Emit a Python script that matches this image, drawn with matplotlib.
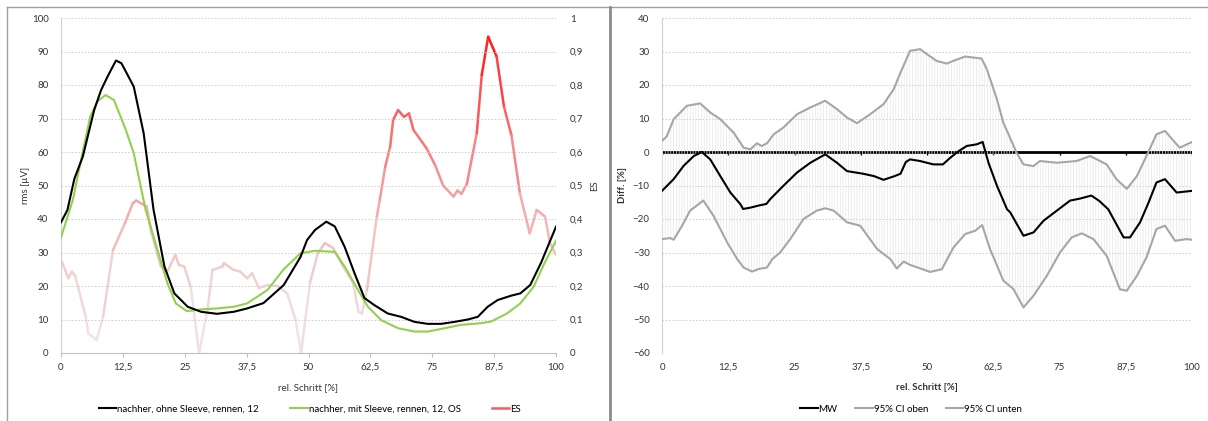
import matplotlib
matplotlib.use("Agg")
import matplotlib.pyplot as plt
import numpy as np
from matplotlib.collections import LineCollection
from matplotlib.lines import Line2D

plt.rcParams['font.family'] = ['Lato', 'DejaVu Sans']
plt.rcParams['font.size'] = 7
plt.rcParams['hatch.linewidth'] = 0.5

# left chart: rms curves (x in % of step)
x_ohne = [0, 1.3, 2.7, 4.4, 6.7, 8.1, 9.4, 11.1, 12.2, 13.1, 14.7, 16.7, 18.7, 20.9, 22.9, 25.6,
          28.3, 31.5, 34.9, 37.6, 40.9, 45, 48.4, 49.7, 51.3, 53.6, 55.3, 57.3, 59.3, 61.3, 63.3,
          66, 68.7, 71.4, 74.1, 76.8, 79.5, 82.2, 84.2, 86.2, 88.2, 90.9, 92.8, 94.8, 97, 100]
y_ohne = [39, 42.7, 52, 58.6, 72.5, 78.5, 82.5, 87.3, 86.5, 84, 79.5, 65.6, 42.7, 25.8, 17.8, 13.8,
          12.3, 11.7, 12.3, 13.3, 14.9, 20.3, 28.7, 33.7, 36.7, 39.2, 37.8, 31.7, 23.8, 16.4, 14.3,
          11.8, 10.8, 9.3, 8.7, 8.7, 9.3, 10, 10.8, 13.8, 15.8, 17.1, 17.8, 20.3, 27, 37.7]

x_mit = [0, 2.4, 3.9, 5.9, 7.3, 9, 10.7, 13.1, 14.7, 17.1, 19.5, 21.5, 23.2, 25.4, 28.2, 31.5,
         34.9, 37.6, 41.7, 45, 48.4, 51.3, 55.3, 57.3, 60, 62, 64.7, 68.1, 71.4, 74.1, 77.5, 80.8,
         84.9, 86.9, 90.1, 92.8, 95.5, 97.5, 100]
y_mit = [34.5, 45.7, 56.6, 70.5, 75, 77, 75.5, 66.6, 59.6, 42.7, 30.7, 20.8, 14.8, 12.5, 13, 13.3,
         13.8, 14.8, 18.8, 25, 29.8, 30.5, 30.2, 25.8, 18.8, 13.8, 9.8, 7.4, 6.4, 6.4, 7.4, 8.4,
         8.9, 9.4, 11.8, 14.8, 19.8, 26.3, 33.5]

x_es = [0, 1.5, 2.2, 2.9, 5, 5.5, 7.2, 8.5, 10.5, 12.9, 14.5, 15.2, 17.3, 18.3, 20.2, 21.5, 23.1,
        23.8, 24.9, 26.2, 27.9, 29.6, 30.6, 32.6, 32.9, 34.9, 36.2, 37.6, 38.6, 40, 41.7, 43.7,
        45.7, 47.4, 48.5, 50.3, 51.9, 53.3, 55, 57, 59, 60.1, 60.8, 61.8, 63.8, 64.4, 65.5, 66.5,
        67.1, 68.1, 69.3, 70.3, 71.2, 73.9, 75.6, 77.2, 79.3, 80.1, 80.9, 82, 84, 85, 86.3, 88,
        89.5, 91, 92.7, 94.7, 96.1, 97.8, 98.8, 100]
y_es = [0.278, 0.223, 0.243, 0.228, 0.108, 0.059, 0.039, 0.108, 0.307, 0.387, 0.447, 0.455, 0.437,
        0.358, 0.258, 0.243, 0.293, 0.263, 0.258, 0.198, 0.0, 0.128, 0.248, 0.258, 0.268, 0.248,
        0.243, 0.223, 0.238, 0.193, 0.203, 0.2, 0.178, 0.098, 0.0, 0.21, 0.298, 0.328, 0.313,
        0.258, 0.21, 0.123, 0.118, 0.188, 0.407, 0.457, 0.556, 0.616, 0.696, 0.725, 0.705, 0.715,
        0.666, 0.61, 0.56, 0.5, 0.467, 0.485, 0.475, 0.505, 0.657, 0.83, 0.944, 0.885, 0.735,
        0.65, 0.477, 0.357, 0.427, 0.407, 0.327, 0.293]

# right chart: difference with 95% CI
x_oben = [0, 0.9, 2.2, 4.7, 7.2, 9.1, 11, 13.5, 15.4, 16.7, 17.9, 18.8, 19.8, 21.1, 22.9, 25.5, 28,
          30.8, 33, 34.9, 36.8, 39.3, 41.8, 43.7, 45, 46.8, 48.7, 50, 51.8, 53.7, 55.3, 57.2, 60.3,
          61.3, 63.2, 64.4, 66.9, 68.2, 70.1, 71.3, 74.5, 78.2, 80.8, 83.9, 85.8, 87.7, 89.6, 91.4,
          93.3, 94.9, 97.1, 97.7, 100]
y_oben = [3.3, 4.7, 9.8, 13.8, 14.5, 11.8, 9.8, 5.8, 1.3, 0.8, 2.6, 1.8, 2.6, 5.3, 7.3, 11.3, 13.3,
          15.3, 12.8, 10.3, 8.6, 11.3, 14.3, 18.7, 23.7, 30.2, 30.7, 29.2, 27.2, 26.4, 27.4, 28.5, 27.9,
          24.7, 15.7, 8.8, -0.2, -3.7, -4.2, -2.7, -3.2, -2.7, -1.2, -3.7, -8.2, -11, -7.2, -1.2,
          5.3, 6.3, 2.3, 1.3, 3]

x_mw = [0, 2.2, 4.1, 6, 7.5, 9.1, 11, 12.9, 14.8, 15.3, 16.7, 18.2, 19.7, 20.4, 22.9, 25.5, 28,
        30.8, 33, 34.9, 38, 40, 41.8, 43.7, 45, 46, 46.8, 48.7, 51.2, 53, 54.4, 56, 57.5, 59.4, 60.5,
        61.6, 63.2, 65.1, 65.7, 68.2, 70.1, 72, 74.5, 77, 78.9, 81, 82.5, 84.2, 85.2, 87.1, 88.3,
        90.2, 91.8, 93.3, 94.9, 97.1, 100]
y_mw = [-11.6, -8.1, -4.1, -1.2, 0, -2.2, -7.2, -12.1, -15.6, -17, -16.6, -16, -15.5, -14.1, -10.1,
        -6.1, -3.2, -0.7, -3.2, -5.7, -6.5, -7.2, -8.3, -7.3, -6.5, -3, -2.2, -2.7, -3.7, -3.7,
        -1.7, 0.3, 1.8, 2.3, 3, -3.2, -10.1, -17.1, -18, -25, -24, -20.5, -17.5, -14.5, -13.9, -13,
        -14.6, -17.1, -20, -25.5, -25.5, -21, -15.1, -9.1, -8.1, -12.1, -11.6]

x_unten = [0, 1.6, 2.2, 3.8, 5.3, 7.8, 9.7, 12.3, 14.2, 15.4, 17, 18.3, 19.8, 20.8, 22.3, 24.2,
           26.7, 29.2, 30.8, 32.4, 34.9, 37.4, 40.6, 43.1, 44.3, 45.6, 46.8, 50.6, 52.8, 55, 57.2,
           59.1, 60.4, 61.9, 64.4, 66.3, 68.2, 70.1, 72.6, 75.1, 77.3, 79.2, 81.4, 83.9, 86.4, 87.7,
           89.6, 91.4, 93.3, 94.9, 96.8, 99, 100]
y_unten = [-26, -25.7, -26.2, -22, -17.5, -14.5, -19, -27, -32, -34.5, -35.7, -34.9, -34.5, -32, -30,
           -26, -20, -17.5, -16.8, -17.5, -21, -22, -29, -32, -34.8, -32.7, -33.7, -35.8, -35, -28.5,
           -24.5, -23.5, -21.8, -29, -38.4, -40.9, -46.4, -42.9, -37, -30, -25.5, -24.3, -26, -31,
           -41, -41.4, -37, -31.5, -23, -22, -26.5, -26, -26.2]

x_ticks = [0, 12.5, 25, 37.5, 50, 62.5, 75, 87.5, 100]


def de(v):
    s = ('%g' % v)
    return s.replace('.', ',')


def style_axes(ax):
    ax.set_xlim(0, 100)
    ax.set_xticks(x_ticks)
    ax.set_xticklabels([de(v) for v in x_ticks])
    ax.grid(axis='y', color='#c8c8c8', linestyle=(0, (2, 2)), linewidth=0.6)
    ax.set_axisbelow(True)
    for s in ['top', 'right']:
        ax.spines[s].set_visible(False)
    ax.spines['left'].set_color('#d0d0d0')
    ax.tick_params(axis='y', length=0, pad=9, colors='#333333')
    ax.tick_params(axis='x', colors='#333333')


fig = plt.figure(figsize=(12.08, 4.21), dpi=100)

# ---------------- left chart
ax1 = fig.add_axes([61 / 1208, 1 - 353 / 421, 495 / 1208, 335 / 421])
style_axes(ax1)
ax1.set_ylim(0, 100)
ax1.set_yticks(range(0, 101, 10))
ax1.spines['bottom'].set_color('#bfbfbf')
ax1.tick_params(axis='x', length=3, color='#bfbfbf', pad=4)
ax1.plot(x_ohne, y_ohne, color='black', lw=1.5, zorder=4)
ax1.plot(x_mit, y_mit, color='#92d050', lw=1.5, zorder=3)
ax1.set_ylabel('rms [µV]', color='#333333')
ax1.yaxis.set_label_coords(-0.063, 0.5)
ax1.set_xlabel('rel. Schritt [%]', color='#333333')
ax1.xaxis.set_label_coords(0.5, -0.09)

ax1b = ax1.twinx()
ax1b.set_ylim(0, 1)
ax1b.set_yticks(np.arange(0, 1.01, 0.1))
ax1b.set_yticklabels([de(round(v, 1)) for v in np.arange(0, 1.01, 0.1)])
for s in ['top', 'left', 'right', 'bottom']:
    ax1b.spines[s].set_visible(False)
ax1b.tick_params(axis='y', length=0, pad=10, colors='#333333')
ax1b.set_ylabel('ES', color='#333333')
ax1b.yaxis.set_label_coords(1.069, 0.5)

# ES line coloured by its value (light for small effect, red for large)
xe = np.array(x_es)
ye = np.array(y_es)
pts = np.column_stack([xe, ye]).reshape(-1, 1, 2)
segs = np.concatenate([pts[:-1], pts[1:]], axis=1)
mid = np.clip((ye[:-1] + ye[1:]) / 2, 0, 1)
t = mid ** 1.6
base = np.array([0.94, 0.90, 0.90])
red = np.array([1.0, 0.0, 0.0])
cols = base[None, :] * (1 - t[:, None]) + red[None, :] * t[:, None]
lc = LineCollection(segs, colors=cols, linewidths=1.8, capstyle='round', joinstyle='round')
ax1b.add_collection(lc)
ax1.set_zorder(ax1b.get_zorder() + 1)
ax1.patch.set_visible(False)

h1 = [Line2D([], [], color='black', lw=1.5),
      Line2D([], [], color='#92d050', lw=1.5),
      Line2D([], [], color='#f85c5c', lw=1.8)]
fig.legend(h1, ['nachher, ohne Sleeve, rennen, 12', 'nachher, mit Sleeve, rennen, 12, OS', 'ES'],
           loc='center', bbox_to_anchor=(310 / 1208, 1 - 409 / 421), ncol=3, frameon=False,
           handlelength=1.8, handletextpad=0.1, columnspacing=3.2, fontsize=7)

# ---------------- right chart
ax2 = fig.add_axes([662 / 1208, 1 - 353 / 421, 530 / 1208, 335 / 421])
style_axes(ax2)
ax2.set_ylim(-60, 40)
ax2.set_yticks(range(-60, 41, 10))
ax2.spines['bottom'].set_visible(False)
ax2.tick_params(axis='x', length=0, pad=7)
ax2.axhline(0, color='black', lw=2, zorder=2)
ax2.vlines(x_ticks, -1, 0, color='black', lw=1, zorder=2)

# hi-low drop lines between upper and lower CI
ax2.fill(np.r_[x_oben, x_unten[::-1]], np.r_[y_oben, y_unten[::-1]],
         facecolor='none', edgecolor='#e6e6e6', hatch='||||||', lw=0, zorder=3)

ax2.plot(x_oben, y_oben, color='#a6a6a6', lw=1.5, zorder=4)
ax2.plot(x_unten, y_unten, color='#a6a6a6', lw=1.5, zorder=4)
ax2.plot(x_mw, y_mw, color='black', lw=1.5, zorder=5)
ax2.set_ylabel('Diff. [%]', fontweight='bold', color='#333333')
ax2.yaxis.set_label_coords(-0.066, 0.5)
ax2.set_xlabel('rel. Schritt [%]', fontweight='bold', color='#333333')
ax2.xaxis.set_label_coords(0.5, -0.09)

h2 = [Line2D([], [], color='black', lw=1.5),
      Line2D([], [], color='#a6a6a6', lw=1.5),
      Line2D([], [], color='#a6a6a6', lw=1.5)]
fig.legend(h2, ['MW', '95% CI oben', '95% CI unten'],
           loc='center', bbox_to_anchor=(911 / 1208, 1 - 409 / 421), ncol=3, frameon=False,
           handlelength=1.8, handletextpad=0.1, columnspacing=1.8, fontsize=7)

# chart frames
W, H = 1208, 421
fig.add_artist(Line2D([6.5 / W, 6.5 / W], [0, 1 - 7 / H], color='#a0a0a0', lw=1))
fig.add_artist(Line2D([6.5 / W, 1], [1 - 7 / H, 1 - 7 / H], color='#a0a0a0', lw=1))
fig.add_artist(Line2D([609.5 / W, 609.5 / W], [0, 1 - 7 / H], color='#8c8c8c', lw=2))

fig.savefig('out.png', dpi=100)
